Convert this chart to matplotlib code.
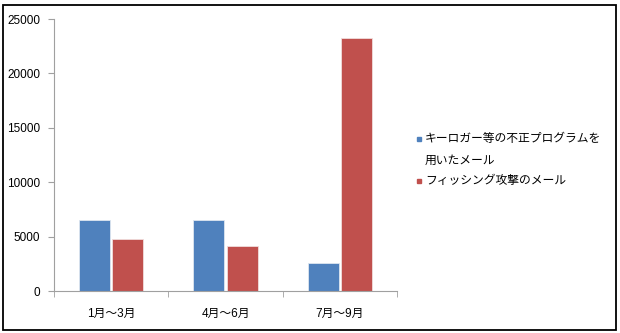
import matplotlib.pyplot as plt
import numpy as np
from matplotlib.patches import Rectangle
from matplotlib.lines import Line2D

plt.rcParams['font.family'] = ['Liberation Sans', 'Noto Sans CJK JP']

# data
categories = ['1月～3月', '4月～6月', '7月～9月']
series_names = ['キーロガー等の不正プログラムを', 'フィッシング攻撃のメール']
series_name_cont = '用いたメール'  # second line of the first legend entry
keylogger = [6500, 6530, 2580]
phishing = [4810, 4170, 23230]
colors = ['#4F81BD', '#C0504D']


def main():
    fig = plt.figure(figsize=(6.2, 3.33), dpi=100)
    ax = fig.add_axes([54 / 620, 1 - 291 / 333, 343 / 620, 272 / 333])

    x = np.arange(len(categories))
    w = 0.27
    ax.bar(x - w / 2 - 0.01, keylogger, w, color=colors[0], edgecolor='#dde6f0', linewidth=0.6)
    ax.bar(x + w / 2 + 0.01, phishing, w, color=colors[1], edgecolor='#f0dddd', linewidth=0.6)

    ax.set_xlim(-0.5, 2.5)
    ax.set_ylim(0, 25000)
    ax.set_yticks(np.arange(0, 25001, 5000))
    ax.set_xticks(x)
    ax.set_xticklabels(categories, fontsize=8.5)
    ax.set_xticks(np.arange(-0.5, 2.6, 1), minor=True)
    ax.tick_params(axis='x', which='major', length=0, pad=12)
    ax.tick_params(axis='x', which='minor', length=4, color='#a0a0a0')
    ax.tick_params(axis='y', length=4, color='#a0a0a0', labelsize=8.5, pad=6)

    for s in ['top', 'right']:
        ax.spines[s].set_visible(False)
    for s in ['left', 'bottom']:
        ax.spines[s].set_color('#a0a0a0')

    # legend drawn by hand so the marker sits on the first line
    ys = [1 - 139.5 / 333, 1 - 181 / 333]
    for name, c, yy in zip(series_names, colors, ys):
        fig.add_artist(Line2D([419 / 620], [yy], marker='s', markersize=3.5,
                              color=c, linestyle='none'))
        fig.text(425 / 620, yy, name, fontsize=8.5, va='center')
    fig.text(425 / 620, 1 - 161 / 333, series_name_cont, fontsize=8.5, va='center')

    # outer frame
    fig.add_artist(Rectangle((3 / 620, 3 / 333), 613 / 620, 325 / 333, transform=fig.transFigure,
                             fill=False, edgecolor='black', linewidth=1.3))

    fig.savefig('out.png', dpi=100)
    plt.close(fig)


if __name__ == "__main__":
    main()
